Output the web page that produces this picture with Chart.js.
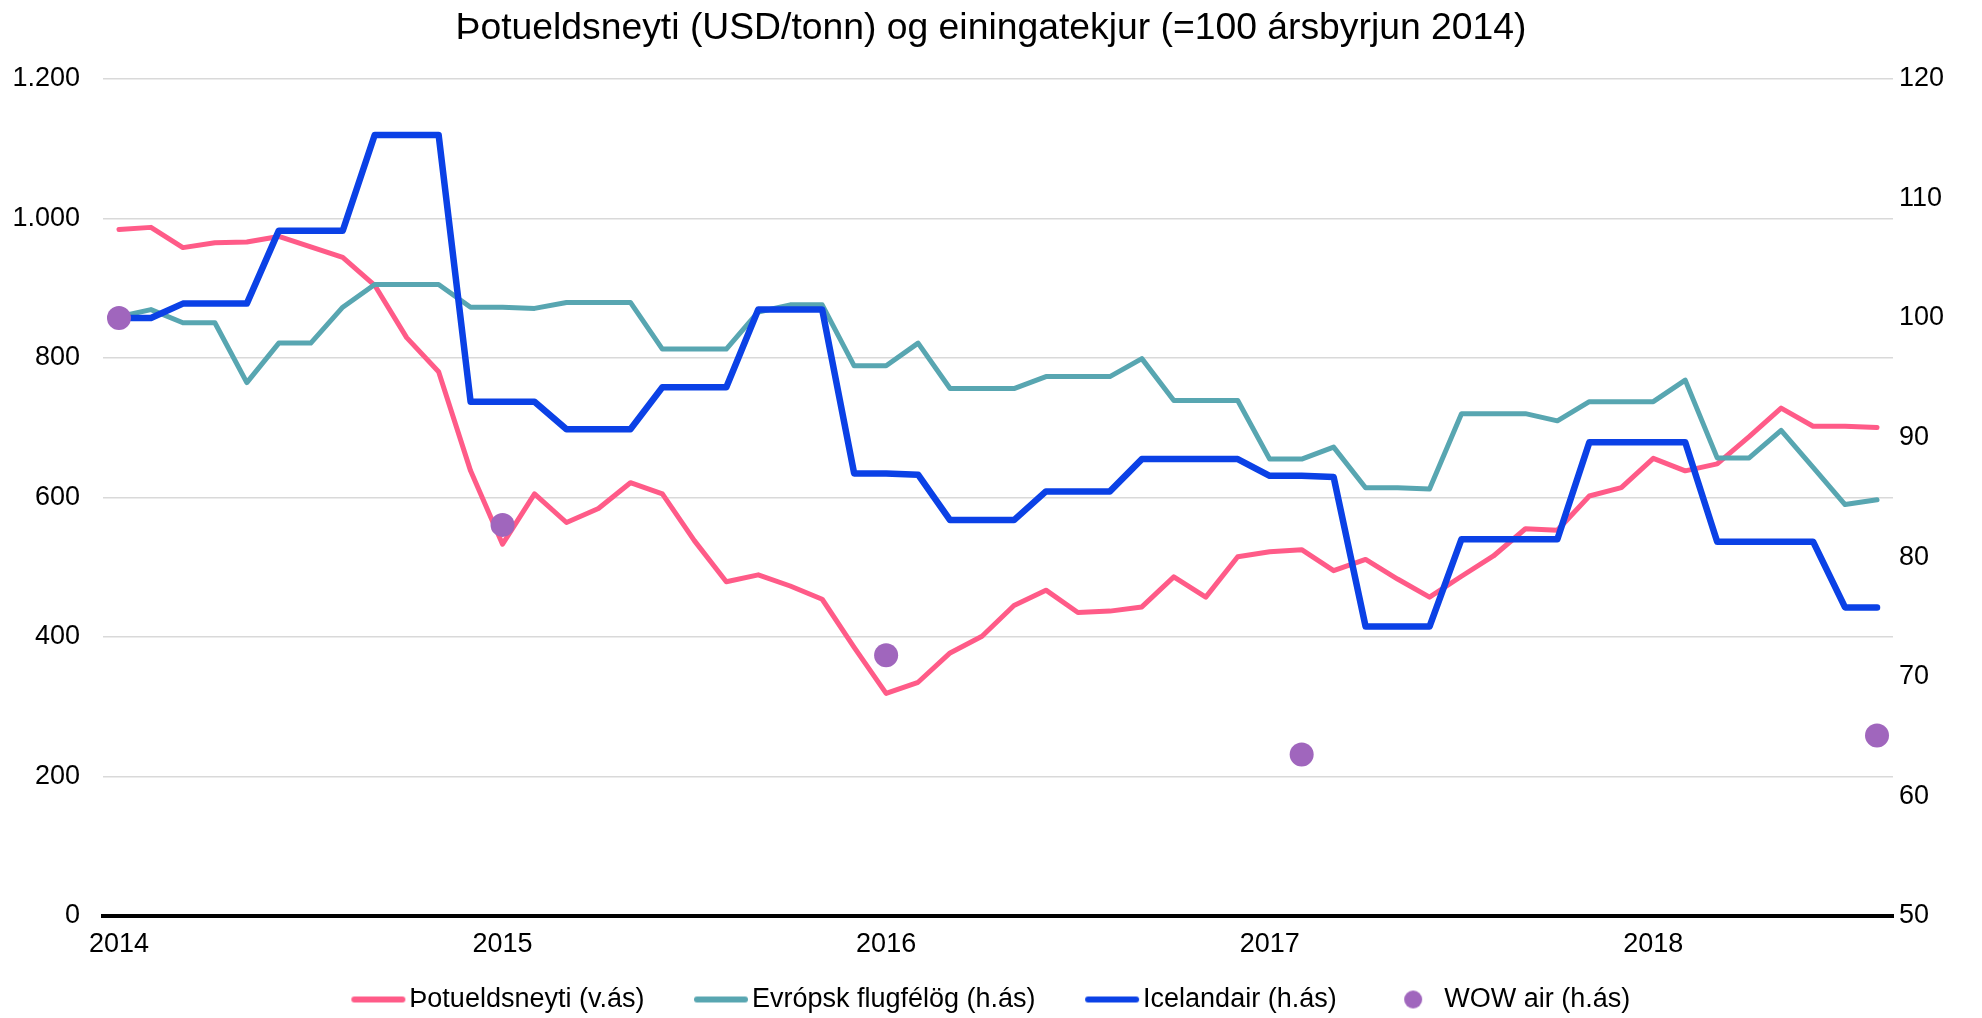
<!DOCTYPE html>
<html lang="is">
<head>
<meta charset="utf-8">
<title>Þotueldsneyti og einingatekjur</title>
<script src="https://cdn.jsdelivr.net/npm/chart.js@4/dist/chart.umd.min.js"></script>
<style>
  html, body { margin: 0; padding: 0; background: #fff; }
  #wrap { width: 1982px; height: 1018px; }
</style>
</head>
<body>
<div id="wrap"><canvas id="chart"></canvas></div>
<script>
// mánaðargögn, jan 2014 - ágú 2018
const years = ["2014", "2015", "2016", "2017", "2018"];
const lastMonth = 8; // ágúst 2018
const months = [];
years.forEach((y, i) => {
  const n = i === years.length - 1 ? lastMonth : 12;
  for (let m = 1; m <= n; m++) months.push(y + "-" + String(m).padStart(2, "0"));
});

// vinstri ás, USD/tonn
const fuel = [984, 987, 958, 965, 966, 974, 959, 944, 904, 829, 780, 638,
  533, 605, 564, 584, 621, 605, 538, 479, 489, 473, 454, 385,
  319, 335, 377, 401, 445, 467, 435, 437, 443, 486, 457, 515,
  522, 525, 495, 511, 483, 457, 487, 516, 555, 553, 602, 614,
  656, 638, 648, 687, 728, 702, 702, 700];

// hægri ás, =100 ársbyrjun 2014
const europe = [100.1, 100.7, 99.6, 99.6, 94.6, 97.9, 97.9, 100.9, 102.8, 102.8, 102.8, 100.9,
  100.9, 100.8, 101.3, 101.3, 101.3, 97.4, 97.4, 97.4, 100.5, 101.1, 101.1, 96.0,
  96.0, 97.9, 94.1, 94.1, 94.1, 95.1, 95.1, 95.1, 96.6, 93.1, 93.1, 93.1,
  88.2, 88.2, 89.2, 85.8, 85.8, 85.7, 92.0, 92.0, 92.0, 91.4, 93.0, 93.0,
  93.0, 94.8, 88.3, 88.3, 90.6, 87.5, 84.4, 84.8];

const icelandair = [100.0, 100.0, 101.2, 101.2, 101.2, 107.3, 107.3, 107.3, 115.3, 115.3, 115.3, 93.0,
  93.0, 93.0, 90.7, 90.7, 90.7, 94.2, 94.2, 94.2, 100.7, 100.7, 100.7, 87.0,
  87.0, 86.9, 83.1, 83.1, 83.1, 85.5, 85.5, 85.5, 88.2, 88.2, 88.2, 88.2,
  86.8, 86.8, 86.7, 74.2, 74.2, 74.2, 81.5, 81.5, 81.5, 81.5, 89.6, 89.6,
  89.6, 89.6, 81.3, 81.3, 81.3, 81.3, 75.8, 75.8];

const wowMonths = ["2014-01", "2015-01", "2016-01", "2017-02", "2018-08"];
const wowValues = [100.0, 82.7, 71.8, 63.5, 65.1];

const seriesNames = ["Þotueldsneyti (v.ás)", "Evrópsk flugfélög (h.ás)", "Icelandair (h.ás)", "WOW air (h.ás)"];
const colors = ["#FF5B88", "#58A6B1", "#0B41E6", "#A066BD"];

const wow = months.map((m) => {
  const k = wowMonths.indexOf(m);
  return k >= 0 ? wowValues[k] : null;
});

const FONT = "'Liberation Sans', Arial, sans-serif";

const lineIcon = (color) => {
  let c = document.createElement("canvas");
  c.width = 56;
  c.height = 8;
  let ctx = c.getContext("2d");
  ctx.strokeStyle = color;
  ctx.lineWidth = 6;
  ctx.lineCap = "round";
  ctx.beginPath();
  ctx.moveTo(4, 4);
  ctx.lineTo(52, 4);
  ctx.stroke();
  return c;
};

const dotIcon = (color) => {
  let c = document.createElement("canvas");
  c.width = 20;
  c.height = 20;
  let ctx = c.getContext("2d");
  ctx.fillStyle = color;
  ctx.beginPath();
  ctx.arc(10, 10, 9, 0, Math.PI * 2);
  ctx.fill();
  return c;
};

const thousands = (v) => String(v).replace(/\B(?=(\d{3})+(?!\d))/g, ".");

// legend row sits lower than its layout box, below the year labels
const legendRow = {
  id: "legendRow",
  afterLayout(chart) {
    const lg = chart.legend;
    lg.top = 927;
    lg.bottom = chart.height;
    lg.height = lg.bottom - lg.top;
    lg.left = 9;
  },
};

const lineSet = (label, data, color, width, axis, order) => ({
  label: label,
  data: data,
  yAxisID: axis,
  borderColor: color,
  backgroundColor: color,
  borderWidth: width,
  borderJoinStyle: "round",
  borderCapStyle: "round",
  pointRadius: 0,
  pointHoverRadius: 0,
  tension: 0,
  order: order,
});

new Chart(document.getElementById("chart"), {
  type: "line",
  data: {
    labels: months,
    datasets: [
      lineSet(seriesNames[0], fuel, colors[0], 5, "y", 4),
      lineSet(seriesNames[1], europe, colors[1], 5, "y1", 3),
      lineSet(seriesNames[2], icelandair, colors[2], 6.5, "y1", 2),
      {
        label: seriesNames[3],
        data: wow,
        yAxisID: "y1",
        showLine: false,
        pointRadius: 12,
        pointHoverRadius: 12,
        pointBorderWidth: 0,
        pointBackgroundColor: colors[3],
        backgroundColor: colors[3],
        borderColor: colors[3],
        order: 1,
      },
    ],
  },
  plugins: [legendRow],
  options: {
    responsive: true,
    maintainAspectRatio: false,
    animation: false,
    clip: false,
    layout: { padding: 0 },
    plugins: {
      tooltip: { enabled: false },
      title: {
        display: true,
        text: "Þotueldsneyti (USD/tonn) og einingatekjur (=100 ársbyrjun 2014)",
        color: "#000",
        font: { family: FONT, size: 37.3, weight: "normal" },
        padding: { top: 6.5, bottom: 27.5 },
      },
      legend: {
        position: "bottom",
        maxHeight: 56,
        labels: {
          usePointStyle: true,
          pointStyleWidth: 35,
          padding: 59,
          color: "#000",
          font: { family: FONT, size: 27 },
          generateLabels: () =>
            seriesNames.map((name, i) => ({
              text: name,
              fillStyle: colors[i],
              strokeStyle: colors[i],
              lineWidth: 0,
              pointStyle: i === 3 ? dotIcon(colors[i]) : lineIcon(colors[i]),
              datasetIndex: i,
              hidden: false,
            })),
        },
      },
    },
    scales: {
      x: {
        type: "category",
        offset: true,
        grid: { display: false, drawTicks: false },
        border: { display: true, color: "#000", width: 4 },
        ticks: {
          autoSkip: false,
          maxRotation: 0,
          padding: 12,
          color: "#000",
          font: { family: FONT, size: 27 },
          callback: (value, index) => (index % 12 === 0 ? months[index].slice(0, 4) : ""),
        },
        afterFit: (scale) => {
          scale.height = 46;
        },
      },
      y: {
        position: "left",
        min: 0,
        max: 1200,
        grid: { color: "#D9D9D9", lineWidth: 1.5, drawTicks: false },
        border: { display: false },
        ticks: {
          stepSize: 200,
          padding: 23,
          color: "#000",
          font: { family: FONT, size: 27 },
          callback: (v) => thousands(v),
        },
        afterFit: (scale) => {
          scale.width = 103;
        },
      },
      y1: {
        position: "right",
        min: 50,
        max: 120,
        grid: { display: false, drawTicks: false },
        border: { display: false },
        ticks: {
          stepSize: 10,
          padding: 6,
          color: "#000",
          font: { family: FONT, size: 27 },
        },
        afterFit: (scale) => {
          scale.width = 89;
        },
      },
    },
  },
});
</script>
</body>
</html>
